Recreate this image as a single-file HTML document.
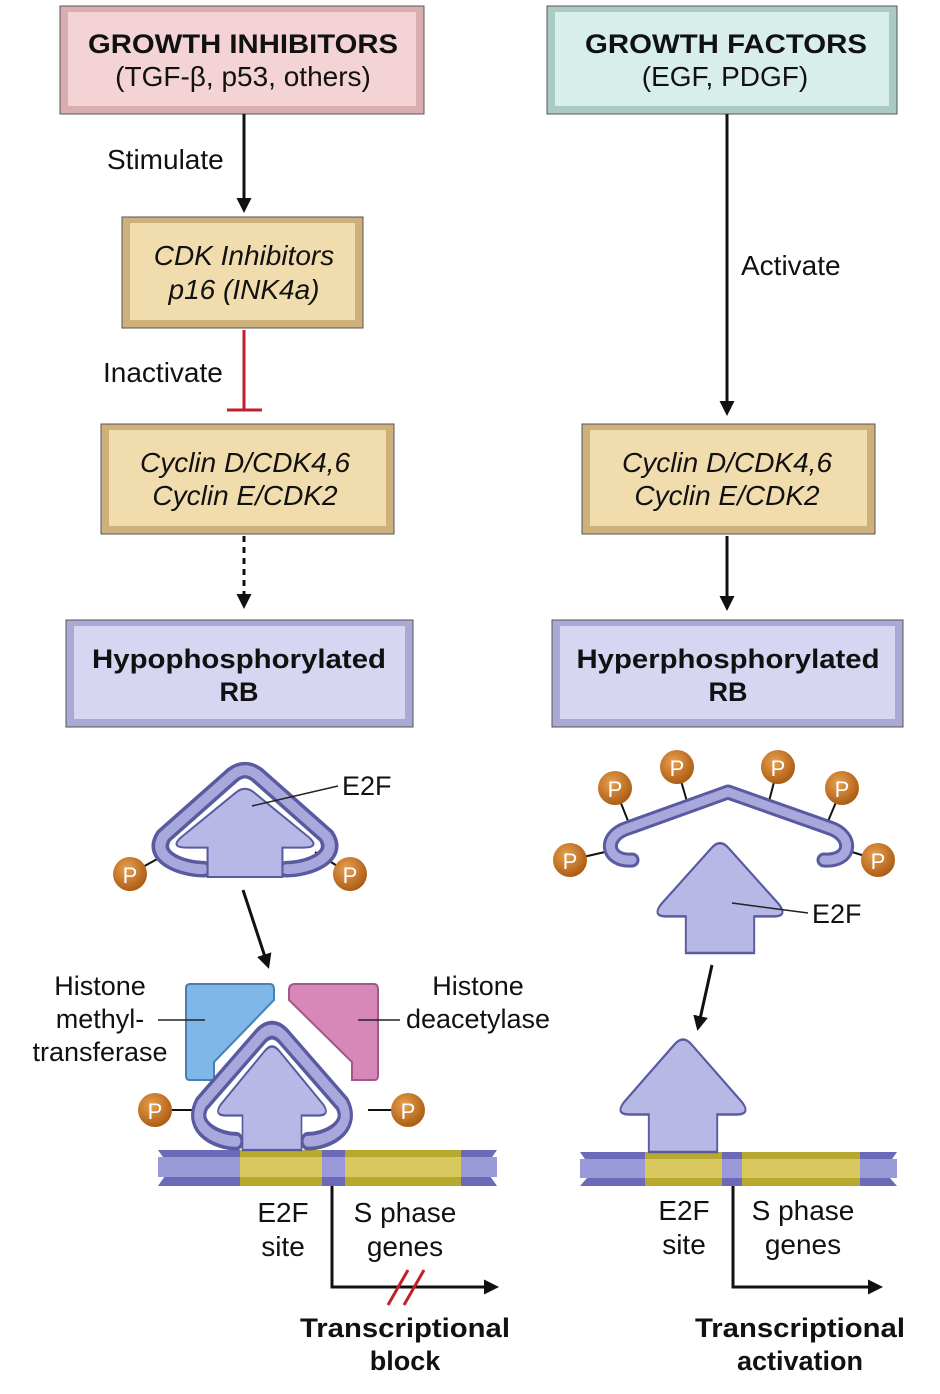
<!DOCTYPE html>
<html><head><meta charset="utf-8"><style>
html,body{margin:0;padding:0;background:#fff;}
svg{display:block;font-family:"Liberation Sans",sans-serif;}
</style></head><body>
<svg width="940" height="1394" viewBox="0 0 940 1394">
<defs>
<marker id="ah" viewBox="0 0 10 10" refX="8" refY="5" markerWidth="5" markerHeight="5" orient="auto"><path d="M0 0 L10 5 L0 10 Z" fill="#111"/></marker>
<radialGradient id="pg" cx="0.4" cy="0.35" r="0.7"><stop offset="0" stop-color="#e8a050"/><stop offset="1" stop-color="#a85810"/></radialGradient>
<path id="e2f" d="M -36 0 L -36 -30 L -56 -30 Q -72 -30 -62 -40 L -9 -86 Q 0 -94 9 -86 L 62 -40 Q 72 -30 56 -30 L 36 -30 L 36 0 Z"/>
<path id="rbw" d="M -40 -8 C -60 -8 -92 -20 -78 -42 L -12 -104 Q 0 -114 12 -104 L 78 -42 C 92 -20 60 -8 40 -8"/>
</defs>

<g>
<rect x="60" y="6" width="364" height="108" fill="#d9aeb1" stroke="#555" stroke-width="1"/>
<rect x="68" y="12" width="348" height="94" fill="#f3d3d5"/>
<text x="243" y="53" text-anchor="middle" font-size="27" font-weight="bold" fill="#111" textLength="310" lengthAdjust="spacingAndGlyphs">GROWTH INHIBITORS</text>
<text x="243" y="86" text-anchor="middle" font-size="28" fill="#111">(TGF-β, p53, others)</text>
</g>
<g>
<rect x="547" y="6" width="350" height="108" fill="#a9cbc4" stroke="#555" stroke-width="1"/>
<rect x="555" y="12" width="334" height="94" fill="#d8eeea"/>
<text x="726" y="53" text-anchor="middle" font-size="27" font-weight="bold" fill="#111" textLength="282" lengthAdjust="spacingAndGlyphs">GROWTH FACTORS</text>
<text x="725" y="86" text-anchor="middle" font-size="28" fill="#111">(EGF, PDGF)</text>
</g>
<g>
<rect x="122" y="217" width="241" height="111" fill="#cdb07a" stroke="#555" stroke-width="1"/>
<rect x="130" y="223" width="225" height="97" fill="#f1dcae"/>
<text x="244" y="265" text-anchor="middle" font-size="28" font-style="italic" fill="#111">CDK Inhibitors</text>
<text x="244" y="299" text-anchor="middle" font-size="28" font-style="italic" fill="#111">p16 (INK4a)</text>
</g>
<g>
<rect x="101" y="424" width="293" height="110" fill="#cdb07a" stroke="#555" stroke-width="1"/>
<rect x="109" y="430" width="277" height="96" fill="#f1dcae"/>
<text x="245" y="472" text-anchor="middle" font-size="28" font-style="italic" fill="#111">Cyclin D/CDK4,6</text>
<text x="245" y="505" text-anchor="middle" font-size="28" font-style="italic" fill="#111">Cyclin E/CDK2</text>
</g>
<g>
<rect x="582" y="424" width="293" height="110" fill="#cdb07a" stroke="#555" stroke-width="1"/>
<rect x="590" y="430" width="277" height="96" fill="#f1dcae"/>
<text x="727" y="472" text-anchor="middle" font-size="28" font-style="italic" fill="#111">Cyclin D/CDK4,6</text>
<text x="727" y="505" text-anchor="middle" font-size="28" font-style="italic" fill="#111">Cyclin E/CDK2</text>
</g>
<g>
<rect x="66" y="620" width="347" height="107" fill="#a9a9d6" stroke="#555" stroke-width="1"/>
<rect x="74" y="626" width="331" height="93" fill="#d6d6f2"/>
<text x="239" y="668" text-anchor="middle" font-size="27" font-weight="bold" fill="#111" textLength="294" lengthAdjust="spacingAndGlyphs">Hypophosphorylated</text>
<text x="239" y="701" text-anchor="middle" font-size="27" font-weight="bold" fill="#111">RB</text>
</g>
<g>
<rect x="552" y="620" width="351" height="107" fill="#a9a9d6" stroke="#555" stroke-width="1"/>
<rect x="560" y="626" width="335" height="93" fill="#d6d6f2"/>
<text x="728" y="668" text-anchor="middle" font-size="27" font-weight="bold" fill="#111" textLength="303" lengthAdjust="spacingAndGlyphs">Hyperphosphorylated</text>
<text x="728" y="701" text-anchor="middle" font-size="27" font-weight="bold" fill="#111">RB</text>
</g>

<line x1="244" y1="114" x2="244" y2="210" stroke="#111" stroke-width="3" marker-end="url(#ah)"/>
<text x="107" y="169" font-size="28" fill="#111">Stimulate</text>
<g>
<line x1="244" y1="330" x2="244" y2="410" stroke="#c0202a" stroke-width="3"/>
<line x1="227" y1="410" x2="262" y2="410" stroke="#c0202a" stroke-width="3"/>
</g>
<text x="103" y="382" font-size="28" fill="#111">Inactivate</text>
<line x1="244" y1="536" x2="244" y2="606" stroke="#111" stroke-width="3" stroke-dasharray="6,5" marker-end="url(#ah)"/>
<line x1="727" y1="114" x2="727" y2="413" stroke="#111" stroke-width="3" marker-end="url(#ah)"/>
<text x="741" y="275" font-size="28" fill="#111">Activate</text>
<line x1="727" y1="536" x2="727" y2="608" stroke="#111" stroke-width="3" marker-end="url(#ah)"/>
<line x1="243" y1="890" x2="268" y2="966" stroke="#111" stroke-width="3" marker-end="url(#ah)"/>
<line x1="712" y1="965" x2="698" y2="1028" stroke="#111" stroke-width="3" marker-end="url(#ah)"/>

<g>
<line x1="130" y1="874" x2="170" y2="852" stroke="#111" stroke-width="2"/>
<line x1="350" y1="874" x2="315" y2="852" stroke="#111" stroke-width="2"/>
<g transform="translate(245,877) scale(1.04,0.98)">
<use href="#rbw" fill="none" stroke="#5a5aa0" stroke-width="17" stroke-linecap="round"/>
<use href="#rbw" fill="none" stroke="#a8a8dc" stroke-width="10" stroke-linecap="round"/>
<use href="#e2f" fill="#b8b8e6" stroke="#5a5aa0" stroke-width="2"/>
</g>
<circle cx="130" cy="874" r="17" fill="url(#pg)"/><text x="130" y="883" text-anchor="middle" font-size="22" fill="#fff">P</text>
<circle cx="350" cy="874" r="17" fill="url(#pg)"/><text x="350" y="883" text-anchor="middle" font-size="22" fill="#fff">P</text>
<line x1="252" y1="806" x2="338" y2="786" stroke="#222" stroke-width="1.5"/>
<text x="342" y="795" font-size="27" fill="#111">E2F</text>
</g>

<g>
<g stroke="#111" stroke-width="2">
<line x1="615" y1="788" x2="630" y2="826"/><line x1="677" y1="767" x2="688" y2="805"/>
<line x1="778" y1="767" x2="768" y2="805"/><line x1="842" y1="788" x2="826" y2="826"/>
<line x1="570" y1="860" x2="605" y2="852"/><line x1="878" y1="860" x2="852" y2="852"/>
</g>
<path d="M 632 860 C 606 862 602 836 628 828 L 728 792 L 830 828 C 854 836 852 862 824 860" fill="none" stroke="#5a5aa0" stroke-width="15" stroke-linecap="round" stroke-linejoin="round"/>
<path d="M 632 860 C 606 862 602 836 628 828 L 728 792 L 830 828 C 854 836 852 862 824 860" fill="none" stroke="#a8a8dc" stroke-width="9" stroke-linecap="round" stroke-linejoin="round"/>
<g font-size="22" fill="#fff" text-anchor="middle">
<circle cx="615" cy="788" r="17" fill="url(#pg)"/><text x="615" y="797">P</text>
<circle cx="677" cy="767" r="17" fill="url(#pg)"/><text x="677" y="776">P</text>
<circle cx="778" cy="767" r="17" fill="url(#pg)"/><text x="778" y="776">P</text>
<circle cx="842" cy="788" r="17" fill="url(#pg)"/><text x="842" y="797">P</text>
<circle cx="570" cy="860" r="17" fill="url(#pg)"/><text x="570" y="869">P</text>
<circle cx="878" cy="860" r="17" fill="url(#pg)"/><text x="878" y="869">P</text>
</g>
</g>
<g>
<g transform="translate(720,953) scale(0.95,1.22)"><use href="#e2f" fill="#b8b8e6" stroke="#5a5aa0" stroke-width="2"/></g>
<line x1="732" y1="903" x2="808" y2="913" stroke="#222" stroke-width="1.5"/>
<text x="812" y="923" font-size="27" fill="#111">E2F</text>
</g>

<g>
<path d="M 186 988 Q 186 984 190 984 L 270 984 Q 274 984 274 990 L 274 1000 L 214 1062 L 214 1080 L 190 1080 Q 186 1080 186 1076 Z" fill="#7fb8e8" stroke="#4a7fb0" stroke-width="2"/>
</g>
<g>
<path d="M 289 990 Q 289 984 295 984 L 374 984 Q 378 984 378 990 L 378 1076 Q 378 1080 374 1080 L 352 1080 L 352 1062 L 289 1000 Z" fill="#d888b8" stroke="#a05888" stroke-width="2"/>
</g>
<text x="100" y="995" text-anchor="middle" font-size="27" fill="#111"><tspan x="100">Histone</tspan><tspan x="100" dy="33">methyl-</tspan><tspan x="100" dy="33">transferase</tspan></text>
<line x1="158" y1="1020" x2="205" y2="1020" stroke="#222" stroke-width="1.5"/>
<text x="478" y="995" text-anchor="middle" font-size="27" fill="#111"><tspan x="478">Histone</tspan><tspan x="478" dy="33">deacetylase</tspan></text>
<line x1="358" y1="1020" x2="400" y2="1020" stroke="#222" stroke-width="1.5"/>

<g>
<path d="M 158 1150 L 497 1150 L 490 1160 L 497 1168 L 490 1176 L 497 1186 L 158 1186 L 165 1176 L 158 1168 L 165 1160 Z" fill="#6a6ab8"/>
<rect x="158" y="1157" width="339" height="20" fill="#9a9ad8"/>
<rect x="240" y="1150" width="82" height="36" fill="#b8a830"/><rect x="240" y="1157" width="82" height="20" fill="#d8c860"/>
<rect x="345" y="1150" width="116" height="36" fill="#b8a830"/><rect x="345" y="1157" width="116" height="20" fill="#d8c860"/>
</g>
<g>
<line x1="155" y1="1110" x2="195" y2="1110" stroke="#111" stroke-width="2"/>
<line x1="408" y1="1110" x2="368" y2="1110" stroke="#111" stroke-width="2"/>
<g transform="translate(272,1150) scale(0.9,1.1)">
<use href="#rbw" fill="none" stroke="#5a5aa0" stroke-width="17" stroke-linecap="round"/>
<use href="#rbw" fill="none" stroke="#a8a8dc" stroke-width="10" stroke-linecap="round"/>
</g>
<g transform="translate(272,1150) scale(0.82,1.15)"><use href="#e2f" fill="#b8b8e6" stroke="#5a5aa0" stroke-width="2"/></g>
<g font-size="22" fill="#fff" text-anchor="middle">
<circle cx="155" cy="1110" r="17" fill="url(#pg)"/><text x="155" y="1119">P</text>
<circle cx="408" cy="1110" r="17" fill="url(#pg)"/><text x="408" y="1119">P</text>
</g>
</g>

<g>
<path d="M 580 1152 L 897 1152 L 890 1162 L 897 1170 L 890 1178 L 897 1186 L 580 1186 L 587 1178 L 580 1170 L 587 1162 Z" fill="#6a6ab8"/>
<rect x="580" y="1159" width="317" height="19" fill="#9a9ad8"/>
<rect x="645" y="1152" width="77" height="34" fill="#b8a830"/><rect x="645" y="1159" width="77" height="19" fill="#d8c860"/>
<rect x="742" y="1152" width="118" height="34" fill="#b8a830"/><rect x="742" y="1159" width="118" height="19" fill="#d8c860"/>
</g>
<g>
<g transform="translate(683,1152) scale(0.95,1.25)"><use href="#e2f" fill="#b8b8e6" stroke="#5a5aa0" stroke-width="2"/></g>
</g>

<g>
<path d="M 332 1186 L 332 1287 L 496 1287" fill="none" stroke="#111" stroke-width="3" marker-end="url(#ah)"/>
<line x1="388" y1="1305" x2="408" y2="1270" stroke="#c0202a" stroke-width="3"/>
<line x1="404" y1="1305" x2="424" y2="1270" stroke="#c0202a" stroke-width="3"/>
</g>
<text x="283" y="1222" text-anchor="middle" font-size="28" fill="#111"><tspan x="283">E2F</tspan><tspan x="283" dy="34">site</tspan></text>
<text x="405" y="1222" text-anchor="middle" font-size="28" fill="#111"><tspan x="405">S phase</tspan><tspan x="405" dy="34">genes</tspan></text>
<text x="405" y="1337" text-anchor="middle" font-size="27" font-weight="bold" fill="#111"><tspan x="405" textLength="210" lengthAdjust="spacingAndGlyphs">Transcriptional</tspan><tspan x="405" dy="33">block</tspan></text>

<path d="M 733 1186 L 733 1287 L 880 1287" fill="none" stroke="#111" stroke-width="3" marker-end="url(#ah)"/>
<text x="684" y="1220" text-anchor="middle" font-size="28" fill="#111"><tspan x="684">E2F</tspan><tspan x="684" dy="34">site</tspan></text>
<text x="803" y="1220" text-anchor="middle" font-size="28" fill="#111"><tspan x="803">S phase</tspan><tspan x="803" dy="34">genes</tspan></text>
<text x="800" y="1337" text-anchor="middle" font-size="27" font-weight="bold" fill="#111"><tspan x="800" textLength="210" lengthAdjust="spacingAndGlyphs">Transcriptional</tspan><tspan x="800" dy="33">activation</tspan></text>
</svg>
</body></html>
